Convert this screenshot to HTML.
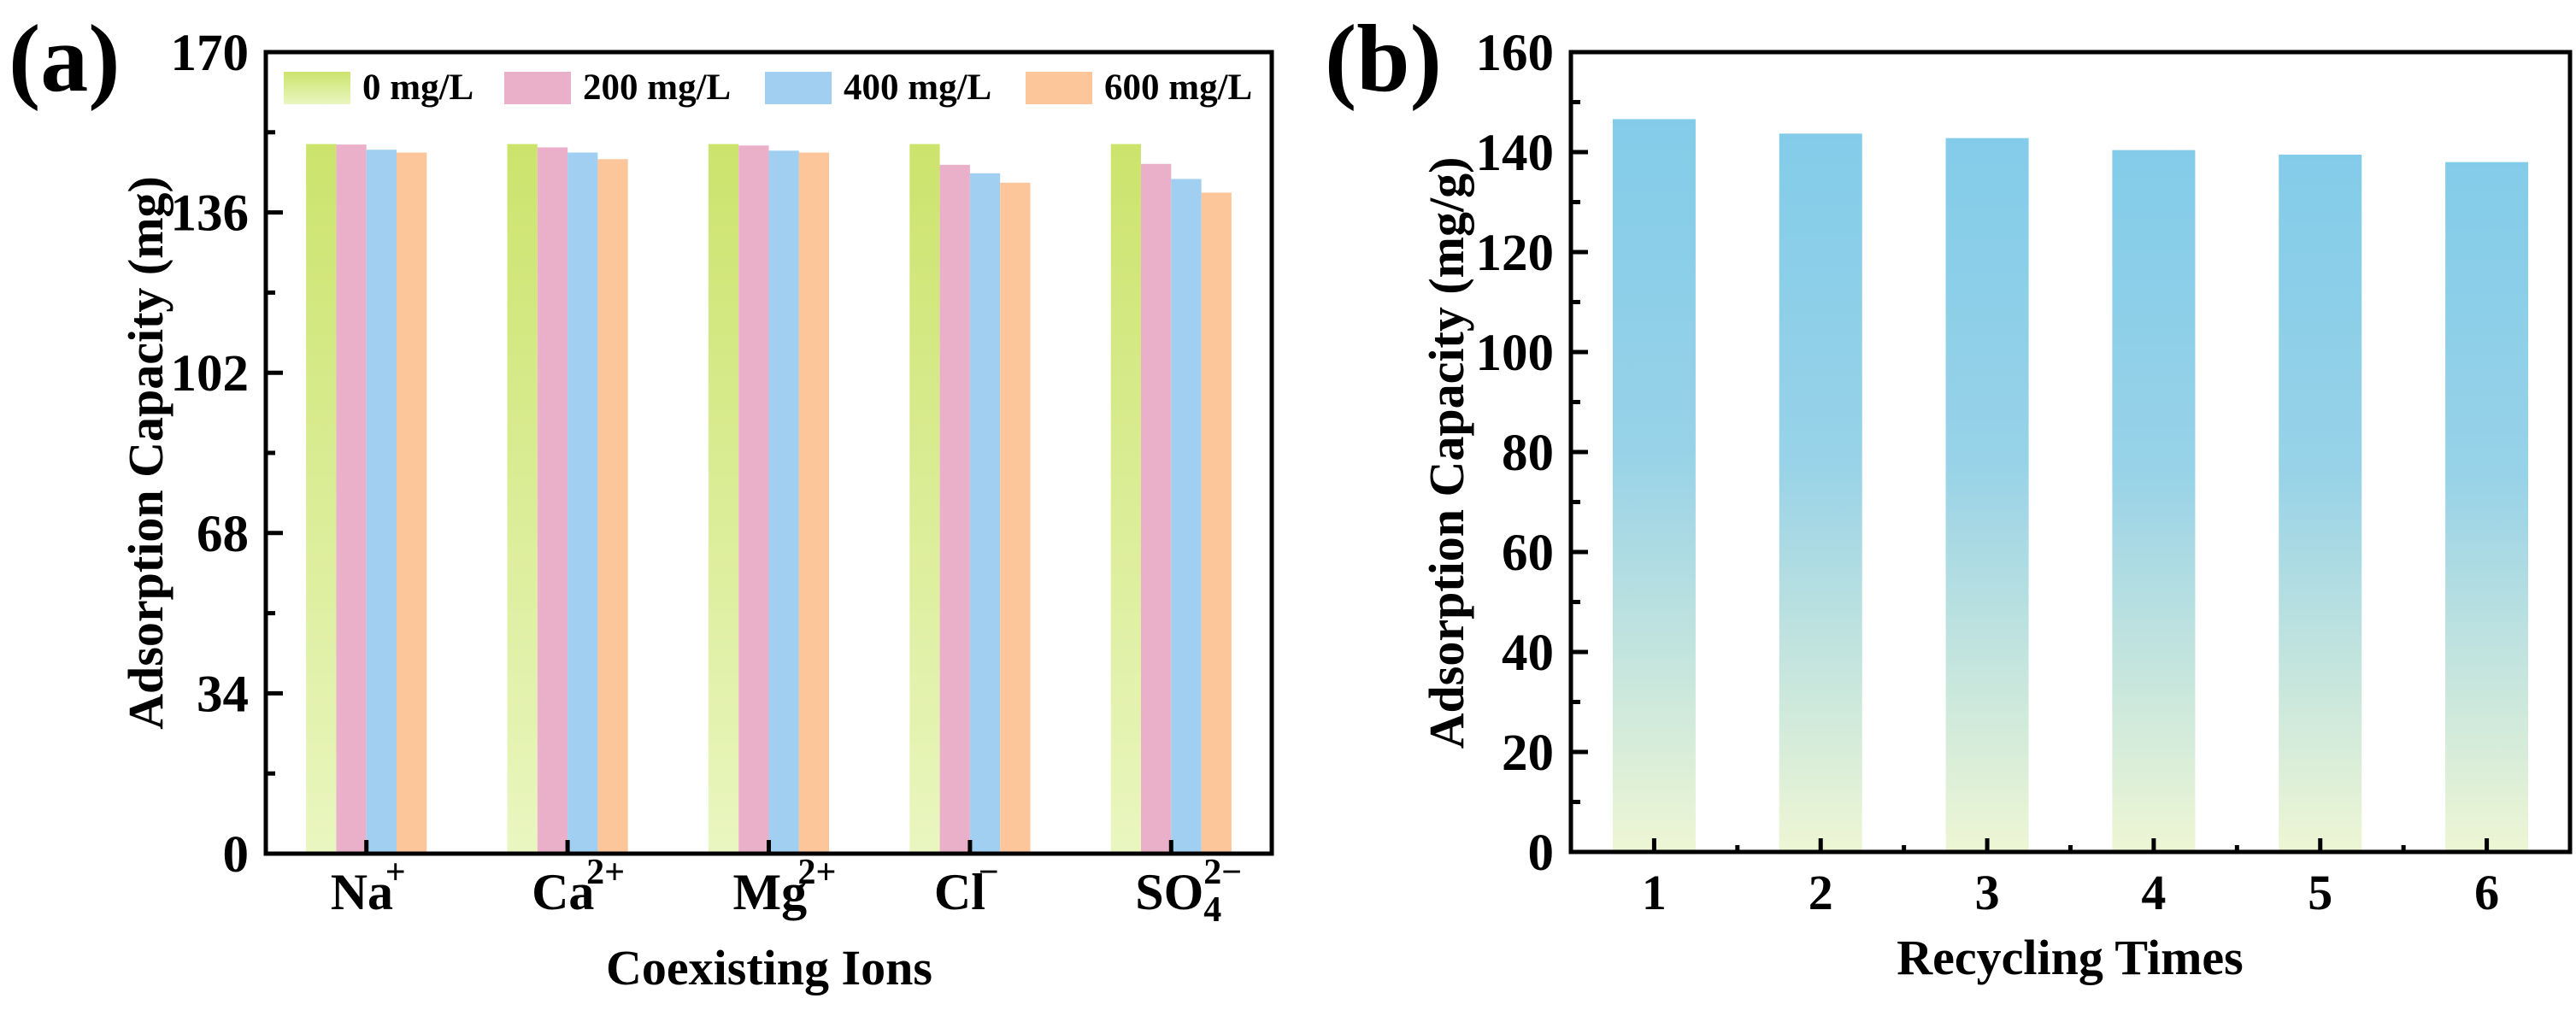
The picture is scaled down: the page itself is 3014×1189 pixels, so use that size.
<!DOCTYPE html>
<html><head><meta charset="utf-8"><style>
html,body{margin:0;padding:0;background:#fff;}
svg text{font-family:"Liberation Serif",serif;font-weight:bold;fill:#000;}
</style></head><body>
<svg id="fig" width="3014" height="1184" viewBox="0 0 3014 1184" xmlns="http://www.w3.org/2000/svg">
<defs>
<linearGradient id="gGreen" x1="0" y1="0" x2="0" y2="1"><stop offset="0" stop-color="#cce36c"/><stop offset="1" stop-color="#eaf6c0"/></linearGradient>
<linearGradient id="gBlueB" x1="0" y1="0" x2="0" y2="1"><stop offset="0" stop-color="#83cce9"/><stop offset="0.45" stop-color="#97d2e8"/><stop offset="1" stop-color="#eef6d4"/></linearGradient>
</defs>
<g id="pa"></g>
<g id="pb"></g>
</svg>
<script>
// Panel (a) data
const ionCats = ["Na", "Ca", "Mg", "Cl", "SO4"];
const seriesNames = ["0 mg/L", "200 mg/L", "400 mg/L", "600 mg/L"];
const s0 = [150.5, 150.5, 150.5, 150.5, 150.5];
const s200 = [150.4, 149.8, 150.2, 146.1, 146.3];
const s400 = [149.3, 148.7, 149.1, 144.3, 143.1];
const s600 = [148.7, 147.3, 148.7, 142.3, 140.2];
const yTicksA = [0, 34, 68, 102, 136, 170];
// Panel (b) data
const cycles = ["1", "2", "3", "4", "5", "6"];
const capB = [146.6, 143.7, 142.8, 140.4, 139.5, 138.0];
const yTicksB = [0, 20, 40, 60, 80, 100, 120, 140, 160];

const NS = "http://www.w3.org/2000/svg";
function mk(parent, tag, attrs, txt) {
  const e = document.createElementNS(NS, tag);
  for (const k in attrs) e.setAttribute(k, attrs[k]);
  if (txt !== undefined) e.textContent = txt;
  parent.appendChild(e);
  return e;
}

// ---------- Panel A ----------
const pa = document.getElementById("pa");
const A = {l: 311, r: 1488, t: 61, b: 999, ymax: 170};
const yA = v => A.b - (v / A.ymax) * (A.b - A.t);
const stepA = (A.r - A.l) / ionCats.length;
const xA = i => A.l + stepA * (i + 0.5);
const barW = 35.3;
const fills = ["url(#gGreen)", "#eab0ca", "#a0cff1", "#fcc69a"];
const allS = [s0, s200, s400, s600];
allS.forEach((s, si) => {
  s.forEach((v, i) => {
    const x = xA(i) - 2 * barW + si * barW;
    const r = mk(pa, "rect", {x: x, y: yA(v), width: barW, height: yA(0) - yA(v), fill: fills[si]});
    
    
  });
});
yTicksA.forEach(v => {
  const y = yA(v);
  mk(pa, "line", {x1: A.l, x2: A.l + 20, y1: y, y2: y, stroke: "#000", "stroke-width": 5});
  const t = mk(pa, "text", {x: 291, y: y + 21, "text-anchor": "end", "font-size": 61}, String(v));
  
  
});
for (let k = 0; k < yTicksA.length - 1; k++) {
  const y = yA((yTicksA[k] + yTicksA[k + 1]) / 2);
  mk(pa, "line", {x1: A.l, x2: A.l + 11, y1: y, y2: y, stroke: "#000", "stroke-width": 5});
}
ionCats.forEach((c, i) => {
  mk(pa, "line", {x1: xA(i), x2: xA(i), y1: A.b, y2: A.b - 16, stroke: "#000", "stroke-width": 5});
});
const ionLabels = [
  {base: "Na", sup: "+", sub: ""},
  {base: "Ca", sup: "2+", sub: ""},
  {base: "Mg", sup: "2+", sub: ""},
  {base: "Cl", sup: "\u2212", sub: ""},
  {base: "SO", sup: "2\u2212", sub: "4"}
];
ionLabels.forEach((L, i) => {
  const g = mk(pa, "g", {});
  
  
  const w = L.base.length * 34 + 24;
  const x0 = xA(i) - w / 2 + 4;
  mk(g, "text", {x: x0, y: 1064, "font-size": 60}, L.base);
  const bw = L.base === "Na" ? 64 : L.base === "Ca" ? 64 : L.base === "Mg" ? 76 : L.base === "Cl" ? 52 : 80;
  mk(g, "text", {x: x0 + bw, y: 1034, "font-size": 42}, L.sup);
  if (L.sub) mk(g, "text", {x: x0 + bw, y: 1078, "font-size": 42}, L.sub);
});
mk(pa, "rect", {x: A.l, y: A.t, width: A.r - A.l, height: A.b - A.t, fill: "none", stroke: "#000", "stroke-width": 5});
const legX = [332, 590, 895, 1200];
seriesNames.forEach((n, i) => {
  const g = mk(pa, "g", {});
  
  
  mk(g, "rect", {x: legX[i], y: 84, width: 78, height: 38, fill: fills[i]});
  mk(g, "text", {x: legX[i] + 92, y: 116, "font-size": 43}, n);
});
let t;
t = mk(pa, "text", {x: 10, y: 106, "font-size": 112}, "(a)");
 
t = mk(pa, "text", {x: 0, y: 0, "font-size": 58, "text-anchor": "middle", transform: "translate(190,530) rotate(-90)"}, "Adsorption Capacity (mg)");
 
t = mk(pa, "text", {x: 900, y: 1152, "font-size": 58, "text-anchor": "middle"}, "Coexisting Ions");
 

// ---------- Panel B ----------
const pb = document.getElementById("pb");
const B = {l: 1838, r: 3007, t: 61, b: 997, ymax: 160};
const yB = v => B.b - (v / B.ymax) * (B.b - B.t);
const stepB = (B.r - B.l) / cycles.length;
const xB = i => B.l + stepB * (i + 0.5);
const bwB = 97;
capB.forEach((v, i) => {
  const r = mk(pb, "rect", {x: xB(i) - bwB / 2, y: yB(v), width: bwB, height: yB(0) - yB(v), fill: "url(#gBlueB)"});
  
  
});
yTicksB.forEach(v => {
  const y = yB(v);
  mk(pb, "line", {x1: B.l, x2: B.l + 20, y1: y, y2: y, stroke: "#000", "stroke-width": 5});
  const tt = mk(pb, "text", {x: 1818, y: y + 21, "text-anchor": "end", "font-size": 61}, String(v));
  
  
});
for (let k = 0; k < yTicksB.length - 1; k++) {
  const y = yB((yTicksB[k] + yTicksB[k + 1]) / 2);
  mk(pb, "line", {x1: B.l, x2: B.l + 11, y1: y, y2: y, stroke: "#000", "stroke-width": 5});
}
cycles.forEach((c, i) => {
  mk(pb, "line", {x1: xB(i), x2: xB(i), y1: B.b, y2: B.b - 16, stroke: "#000", "stroke-width": 5});
  mk(pb, "line", {x1: xB(i) + stepB / 2, x2: xB(i) + stepB / 2, y1: B.b, y2: B.b - 8, stroke: "#000", "stroke-width": 5});
  const tt = mk(pb, "text", {x: xB(i), y: 1064, "text-anchor": "middle", "font-size": 58}, c);
  
  
});
mk(pb, "rect", {x: B.l, y: B.t, width: B.r - B.l, height: B.b - B.t, fill: "none", stroke: "#000", "stroke-width": 5});
t = mk(pb, "text", {x: 1550, y: 106, "font-size": 112}, "(b)");
 
t = mk(pb, "text", {x: 0, y: 0, "font-size": 58, "text-anchor": "middle", transform: "translate(1712,530) rotate(-90)"}, "Adsorption Capacity (mg/g)");
 
t = mk(pb, "text", {x: 2422, y: 1140, "font-size": 58, "text-anchor": "middle"}, "Recycling Times");
 
</script>
</body></html>
